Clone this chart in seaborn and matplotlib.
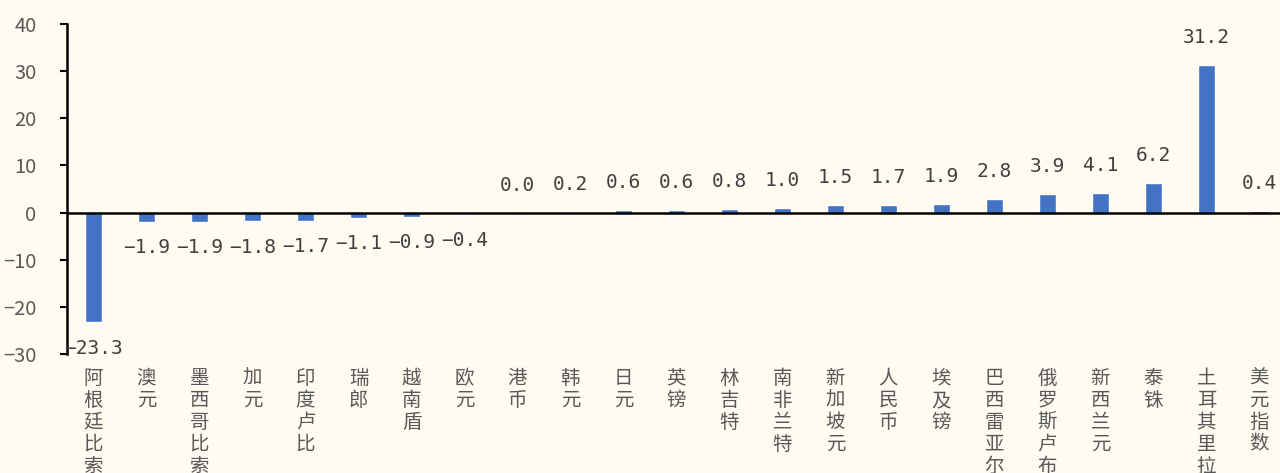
import matplotlib
matplotlib.use('Agg')
import matplotlib.pyplot as plt
import seaborn as sns
import pandas as pd

currencies = ['阿根廷比索', '澳元', '墨西哥比索', '加元', '印度卢比', '瑞郎', '越南盾', '欧元',
              '港币', '韩元', '日元', '英镑', '林吉特', '南非兰特', '新加坡元', '人民币',
              '埃及镑', '巴西雷亚尔', '俄罗斯卢布', '新西兰元', '泰铢', '土耳其里拉', '美元指数']
changes = [-23.3, -1.9, -1.9, -1.8, -1.7, -1.1, -0.9, -0.4, 0.0, 0.2, 0.6, 0.6, 0.8, 1.0,
           1.5, 1.7, 1.9, 2.8, 3.9, 4.1, 6.2, 31.2, 0.4]
y_ticks = [-30, -20, -10, 0, 10, 20, 30, 40]

bg = '#FFFBF0'
grey = '#595959'
colors = ['#4472C4'] * (len(currencies) - 1) + ['#FF0000']

sns.set_theme(style='white')
plt.rcParams['font.family'] = ['Noto Sans CJK SC', 'DejaVu Sans']
plt.rcParams['axes.unicode_minus'] = True

df = pd.DataFrame({'currency': currencies, 'change': changes})

fig = plt.figure(figsize=(12.8, 4.73), dpi=100, facecolor=bg)
ax = fig.add_axes([67 / 1280, 1 - 354 / 473, 1 - 67 / 1280, (354 - 24) / 473])
ax.set_facecolor(bg)

sns.barplot(data=df, x='currency', y='change', hue='currency', palette=colors,
            legend=False, width=0.32, ax=ax, saturation=1)

ax.set_ylim(-30, 40)
ax.set_yticks(y_ticks)
ax.set_yticklabels([str(t).replace('-', '\u2212') for t in y_ticks], fontsize=14.5, color=grey)
ax.set_xlim(-0.5, 22.39)
ax.set_xlabel('')
ax.set_ylabel('')

ax.set_xticks(range(len(currencies)))
ax.set_xticklabels(['\n'.join(c) for c in currencies], fontsize=14, color=grey,
                   va='top', linespacing=1.06)
ax.tick_params(axis='x', length=0, pad=10)
ax.tick_params(axis='y', direction='out', length=5, width=1.5, color='black', left=True, pad=17)

for s in ['top', 'right', 'bottom']:
    ax.spines[s].set_visible(False)
ax.spines['left'].set_color('black')
ax.spines['left'].set_linewidth(1.8)
ax.axhline(0, color='black', lw=1.8, zorder=3)

for i, v in enumerate(changes):
    off = 13 if v >= 0 else -12
    ax.annotate(f'{v:.1f}'.replace('-', '\u2212'), (i, v), xytext=(0, off),
                textcoords='offset points', ha='center',
                va='bottom' if v >= 0 else 'top', fontsize=14, color='#404040',
                family=['DejaVu Sans Mono'])

fig.savefig('out.png', dpi=100, facecolor=bg)
